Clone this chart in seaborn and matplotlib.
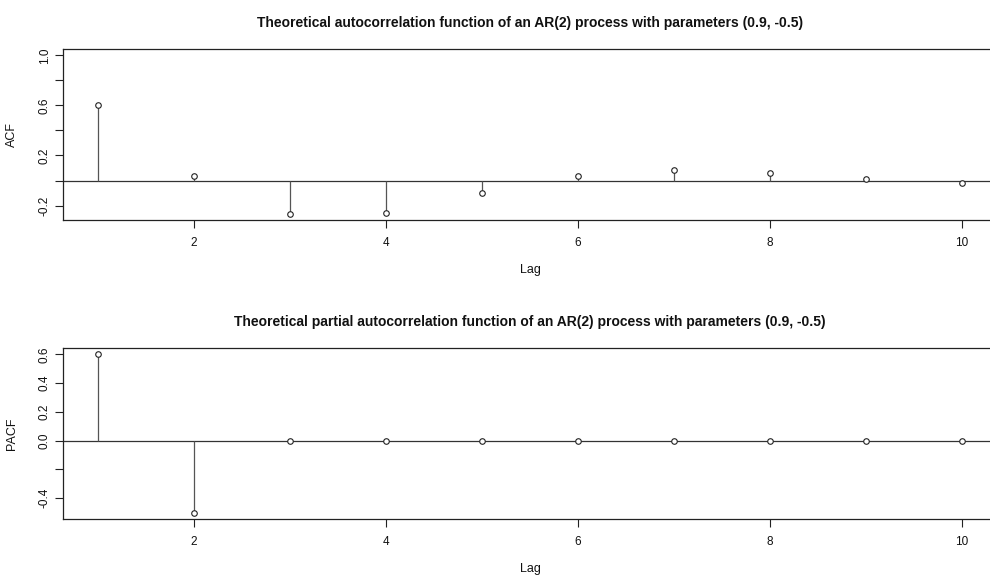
import numpy as np
import pandas as pd
import matplotlib
matplotlib.use("Agg")
import matplotlib.pyplot as plt
import seaborn as sns

# theoretical ACF / PACF of AR(2) with phi = (0.9, -0.5), lags 1..10
lags = [1, 2, 3, 4, 5, 6, 7, 8, 9, 10]
acf_vals = [0.6, 0.04, -0.264, -0.2576, -0.0998, 0.0389, 0.085, 0.057, 0.0088, -0.0206]
pacf_vals = [0.6, -0.5, 0.0, 0.0, 0.0, 0.0, 0.0, 0.0, 0.0, 0.0]

acf_ticks = [-0.2, 0.0, 0.2, 0.4, 0.6, 0.8, 1.0]
acf_labels = ["-0.2", "", "0.2", "", "0.6", "", "1.0"]
pacf_ticks = [-0.4, -0.2, 0.0, 0.2, 0.4, 0.6]
pacf_labels = ["-0.4", "", "0.0", "0.2", "0.4", "0.6"]

sns.set_style("ticks")
plt.rcParams['font.family'] = ['Liberation Sans', 'DejaVu Sans']

W, H = 990, 576
fig = plt.figure(figsize=(W / 100, H / 100), dpi=100)

# axes boxes in pixel coords (left, top, right, bottom)
def px_axes(l, t, r, b):
    return fig.add_axes([l / W, 1 - b / H, (r - l) / W, (b - t) / H])

ax1 = px_axes(63.4, 49, 996.6, 220)
ax2 = px_axes(63.4, 348, 996.6, 519)


def stem_panel(ax, vals, ylim, ticks, labels, ylab, title):
    df = pd.DataFrame({"Lag": lags, "val": vals})
    ax.axhline(0, color="#333333", lw=0.9, zorder=1)
    ax.vlines(df["Lag"], 0, df["val"], color="#555555", lw=0.9, zorder=2)
    sns.scatterplot(data=df, x="Lag", y="val", ax=ax, marker="o", s=16,
                    facecolor="white", edgecolor="#222222", linewidth=0.8, zorder=3)
    ax.set_xlim(0.64, 10.36)
    ax.set_ylim(*ylim)
    ax.set_xticks([2, 4, 6, 8, 10])
    ax.set_yticks(ticks)
    ax.set_yticklabels(labels, rotation=90, va="center")
    ax.tick_params(length=6, width=0.8, color="#222222", labelsize=8.5, labelcolor="#111111")
    ax.tick_params(axis="x", pad=6.5)
    ax.tick_params(axis="y", pad=3)
    for s in ax.spines.values():
        s.set_visible(True)
        s.set_linewidth(0.9)
        s.set_color("#222222")
    ax.set_xlabel("Lag", fontsize=9, color="#111111")
    ax.set_ylabel(ylab, fontsize=9, color="#111111")
    ax.xaxis.set_label_coords((530 - 63.4) / 933.2, -44 / 171)
    ax.yaxis.set_label_coords(-(63.4 - 18) / 933.2, 0.5)
    ax.set_title(title, fontsize=10, fontweight="bold", pad=16, color="#111111")


stem_panel(ax1, acf_vals, (-0.3152, 1.0506), acf_ticks, acf_labels, "ACF",
           "Theoretical autocorrelation function of an AR(2) process with parameters (0.9, -0.5)")
stem_panel(ax2, pacf_vals, (-0.544, 0.644), pacf_ticks, pacf_labels, "PACF",
           "Theoretical partial autocorrelation function of an AR(2) process with parameters (0.9, -0.5)")

fig.savefig("out.png", dpi=100)
